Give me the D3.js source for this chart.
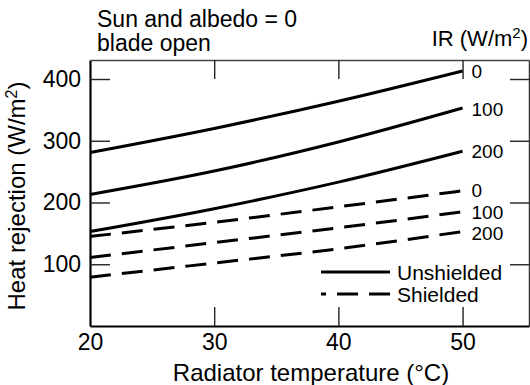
<!DOCTYPE html>
<html>
<head>
<meta charset="utf-8">
<script src="https://cdn.jsdelivr.net/npm/d3@7"></script>
<style>
  html, body { margin: 0; padding: 0; background: #fff; }
  svg { display: block; }
  text { font-family: "Liberation Sans", Arial, Helvetica, sans-serif; fill: #000; }
</style>
</head>
<body>
<svg id="chart" width="530" height="385"></svg>
<script>
// ---- data ----
const temps = [20, 30, 40, 50];
const unshielded0   = [281, 320, 364, 413];
const unshielded100 = [213, 251, 298, 353];
const unshielded200 = [153, 190, 233, 283];
const shielded0     = [145, 168, 193, 219];
const shielded100   = [111, 135, 159, 185];
const shielded200   = [79, 102, 125, 153];
const irLabels = ["0", "100", "200"];
const xTicks = [20, 30, 40, 50];
const yTicks = [100, 200, 300, 400];

const svg = d3.select("#chart");
const mLeft = 90, mRight = 529, mTop = 60, mBottom = 326;

const x = d3.scaleLinear().domain([20, 55.35]).range([mLeft, mRight]);
const y = d3.scaleLinear().domain([0, 430.8]).range([mBottom, mTop]);

// ---- axes / frame ----
const axL = svg.append("g").attr("transform", `translate(${mLeft},0)`)
  .call(d3.axisLeft(y).tickValues(yTicks).tickSizeInner(-20).tickSizeOuter(0).tickPadding(9));
const axR = svg.append("g").attr("transform", `translate(${mRight},0)`)
  .call(d3.axisRight(y).tickValues(yTicks).tickSizeInner(-19).tickSizeOuter(0).tickFormat(""));
const axB = svg.append("g").attr("transform", `translate(0,${mBottom})`)
  .call(d3.axisBottom(x).tickValues(xTicks).tickSizeInner(-19).tickSizeOuter(0).tickPadding(8));
const axT = svg.append("g").attr("transform", `translate(0,${mTop})`)
  .call(d3.axisTop(x).tickValues(xTicks.slice(1)).tickSizeInner(-19).tickSizeOuter(0).tickFormat(""));

[axL, axR, axB, axT].forEach(g => {
  g.selectAll(".tick line").attr("stroke", "#222").attr("stroke-width", 1.4);
  g.selectAll(".tick text").attr("font-size", 23).attr("fill", "#000")
    .attr("font-family", "'Liberation Sans', Arial, sans-serif");
});
axB.selectAll(".tick").filter(d => d === 20).select("line").remove();
axL.select(".domain").attr("stroke", "#000").attr("stroke-width", 2.2);
axB.select(".domain").attr("stroke", "#000").attr("stroke-width", 2.2);
axR.select(".domain").attr("stroke", "#333").attr("stroke-width", 1.5);
axT.select(".domain").attr("stroke", "#444").attr("stroke-width", 1.4);

// ---- lines ----
const line = d3.line().x(d => x(d[0])).y(d => y(d[1])).curve(d3.curveMonotoneX);
const series = [
  { vals: unshielded0,   dash: null, label: irLabels[0], shift: 0 },
  { vals: unshielded100, dash: null, label: irLabels[1], shift: 1 },
  { vals: unshielded200, dash: null, label: irLabels[2], shift: 0 },
  { vals: shielded0,     dash: "21,11", label: irLabels[0], shift: -1 },
  { vals: shielded100,   dash: "21,11", label: irLabels[1], shift: 0 },
  { vals: shielded200,   dash: "21,11", label: irLabels[2], shift: 1.5 }
];
series.forEach(s => {
  const pts = temps.map((t, i) => [t, s.vals[i]]);
  svg.append("path").datum(pts)
    .attr("d", line)
    .attr("fill", "none")
    .attr("stroke", "#000")
    .attr("stroke-width", 3)
    .attr("stroke-dasharray", s.dash);
  svg.append("text")
    .attr("x", x(temps[temps.length - 1]) + 9)
    .attr("y", y(s.vals[s.vals.length - 1]) + s.shift)
    .attr("dy", "0.36em")
    .attr("font-size", 19)
    .text(s.label);
});

// ---- legend ----
const legX1 = 390, legX2 = 321;
svg.append("line").attr("x1", legX1).attr("x2", legX2).attr("y1", 272).attr("y2", 272)
  .attr("stroke", "#000").attr("stroke-width", 3);
svg.append("line").attr("x1", legX1).attr("x2", legX2).attr("y1", 294).attr("y2", 294)
  .attr("stroke", "#000").attr("stroke-width", 3).attr("stroke-dasharray", "21,11");
svg.append("text").attr("x", 397).attr("y", 272).attr("dy", "0.36em").attr("font-size", 21).text("Unshielded");
svg.append("text").attr("x", 397).attr("y", 294).attr("dy", "0.36em").attr("font-size", 21).text("Shielded");

// ---- titles ----
svg.append("text").attr("x", 97).attr("y", 27).attr("font-size", 23).text("Sun and albedo = 0");
svg.append("text").attr("x", 97).attr("y", 51).attr("font-size", 23).text("blade open");
const ir = svg.append("text").attr("x", 528).attr("y", 46).attr("text-anchor", "end").attr("font-size", 22);
ir.append("tspan").text("IR (W/m");
ir.append("tspan").attr("font-size", 15).attr("dy", -8).text("2");
ir.append("tspan").attr("dy", 8).text(")");

svg.append("text").attr("x", 311).attr("y", 381).attr("text-anchor", "middle").attr("font-size", 24)
  .text("Radiator temperature (°C)");

const yt = svg.append("text").attr("transform", "translate(25,196) rotate(-90)")
  .attr("text-anchor", "middle").attr("font-size", 24);
yt.append("tspan").text("Heat rejection (W/m");
yt.append("tspan").attr("font-size", 16).attr("dy", -8).text("2");
yt.append("tspan").attr("dy", 8).text(")");
</script>
</body>
</html>
